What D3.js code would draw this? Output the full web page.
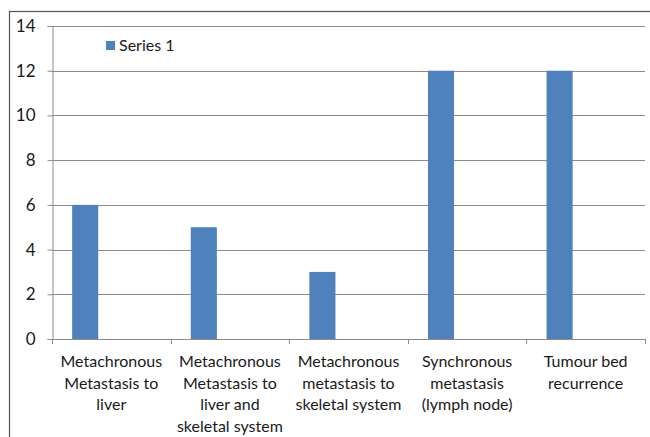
<!DOCTYPE html>
<html>
<head>
<meta charset="utf-8">
<script src="https://cdn.jsdelivr.net/npm/d3@7"></script>
<style>
  html, body { margin: 0; padding: 0; background: #fff; }
  svg { display: block; }
  text { font-family: Lato, "Open Sans", sans-serif; fill: #1a1a1a; }
</style>
</head>
<body>
<svg id="chart" width="650" height="437"></svg>
<script>
// Chart data
const categories = [
  ["Metachronous", "Metastasis to", "liver"],
  ["Metachronous", "Metastasis to", "liver and", "skeletal system"],
  ["Metachronous", "metastasis to", "skeletal system"],
  ["Synchronous", "metastasis", "(lymph node)"],
  ["Tumour bed", "recurrence"]
];
const seriesName = "Series 1";
const values = [6, 5, 3, 12, 12];
const yTicks = [0, 2, 4, 6, 8, 10, 12, 14];

const svg = d3.select("#chart");
const W = 650, H = 437;
const plot = { left: 52, right: 645, top: 26, bottom: 339 };

// Outer frame
svg.append("rect")
  .attr("x", 9.5).attr("y", 11.5)
  .attr("width", W + 10).attr("height", H + 10)
  .attr("fill", "none").attr("stroke", "#555").attr("stroke-width", 1.2);

const x = d3.scaleBand()
  .domain(d3.range(categories.length))
  .range([plot.left, plot.right])
  .padding(0);

const y = d3.scaleLinear()
  .domain([0, 14])
  .range([plot.bottom, plot.top]);

// Horizontal gridlines
svg.append("g")
  .selectAll("line")
  .data(yTicks.filter(d => d > 0))
  .join("line")
  .attr("x1", plot.left).attr("x2", plot.right)
  .attr("y1", d => Math.round(y(d)) + 0.5).attr("y2", d => Math.round(y(d)) + 0.5)
  .attr("stroke", "#8c8c8c").attr("stroke-width", 1);

// Bars
const bw = x.bandwidth();
svg.append("g")
  .selectAll("rect")
  .data(values)
  .join("rect")
  .attr("x", (d, i) => x(i) + bw * 0.17)
  .attr("width", bw * 0.22)
  .attr("y", d => y(d))
  .attr("height", d => y(0) - y(d))
  .attr("fill", "#4f81bd");

// Y axis
const yAxis = d3.axisLeft(y).tickValues(yTicks).tickSize(5).tickPadding(12).tickFormat(d3.format("d"));
const gy = svg.append("g")
  .attr("transform", `translate(${plot.left + 0.5},0)`)
  .call(yAxis);
gy.select(".domain").attr("stroke", "#8c8c8c");
gy.selectAll(".tick line").attr("stroke", "#8c8c8c");
gy.selectAll(".tick text")
  .attr("font-size", 17).attr("font-family", "Lato, 'Open Sans', sans-serif").attr("fill", "#1a1a1a");

// X axis (category boundaries get tick marks)
const bounds = d3.range(categories.length + 1).map(i => plot.left + i * bw);
const gx = svg.append("g");
gx.append("line")
  .attr("x1", plot.left).attr("x2", plot.right)
  .attr("y1", y(0) + 0.5).attr("y2", y(0) + 0.5)
  .attr("stroke", "#8c8c8c");
gx.selectAll("line.tk")
  .data(bounds)
  .join("line")
  .attr("class", "tk")
  .attr("x1", d => Math.round(d) + 0.5).attr("x2", d => Math.round(d) + 0.5)
  .attr("y1", y(0)).attr("y2", y(0) + 5)
  .attr("stroke", "#8c8c8c");

// Category labels
const lbl = gx.selectAll("text.cat")
  .data(categories)
  .join("text")
  .attr("class", "cat")
  .attr("text-anchor", "middle")
  .attr("font-size", 16)
  .attr("x", (d, i) => x(i) + bw / 2)
  .attr("y", y(0) + 28);
lbl.selectAll("tspan")
  .data(d => d)
  .join("tspan")
  .attr("x", function() { return d3.select(this.parentNode).attr("x"); })
  .attr("dy", (d, i) => i === 0 ? 0 : 21.5)
  .text(d => d);

// Legend
const lg = svg.append("g").attr("transform", "translate(106,41)");
lg.append("rect").attr("width", 9).attr("height", 9).attr("fill", "#4f81bd");
lg.append("text").attr("x", 13).attr("y", 10).attr("font-size", 16).text(seriesName);
</script>
</body>
</html>
